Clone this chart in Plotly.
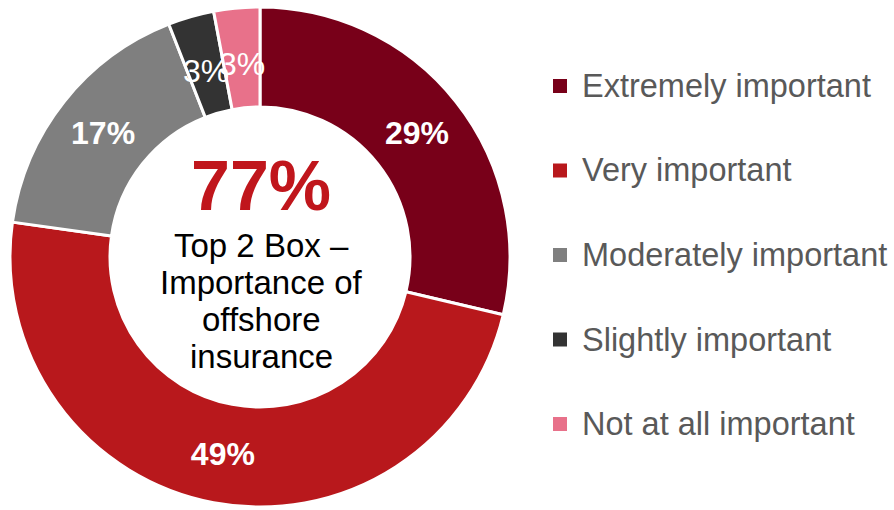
import math
import plotly.graph_objects as go

# Survey responses: importance of offshore insurance
categories = ["Extremely important", "Very important", "Moderately important",
              "Slightly important", "Not at all important"]
shares = [29, 49, 17, 3, 3]
colors = ["#780019", "#B8181C", "#7F7F7F", "#333333", "#E8718A"]

headline = "77%"
caption_lines = ["Top 2 Box –", "Importance of", "offshore", "insurance"]

W, H = 894, 510
FONT = "Liberation Sans, Arial, sans-serif"

# donut geometry in pixels
CX, CY, R_OUT, HOLE = 260, 257, 250, 0.6
SMALL = 5  # slices below this share get a free-standing label


def px_x(v):
    return v / W


def px_y(v):
    return 1 - v / H


fig = go.Figure()
fig.add_trace(go.Pie(
    labels=categories,
    values=shares,
    text=[f"{v}%" if v >= SMALL else "" for v in shares],
    textinfo="text",
    textposition="inside",
    insidetextorientation="horizontal",
    textfont=dict(family=FONT, size=32, color="white", weight="bold"),
    marker=dict(colors=colors, line=dict(color="white", width=3)),
    hole=HOLE,
    sort=False,
    direction="clockwise",
    rotation=0,
    showlegend=False,
    hoverinfo="label+percent",
    domain=dict(x=[px_x(CX - R_OUT), px_x(CX + R_OUT)],
                y=[px_y(CY + R_OUT), px_y(CY - R_OUT)]),
))

annotations = []
shapes = []

# labels for the thin slices, placed at each slice's mid-angle on the ring
total = sum(shares)
cum = 0
r_mid = R_OUT * (1 + HOLE) / 2 - 6
for v in shares:
    mid = (cum + v / 2) / total * 2 * math.pi
    cum += v
    if v >= SMALL:
        continue
    lx = CX + r_mid * math.sin(mid)
    ly = CY - r_mid * math.cos(mid)
    annotations.append(dict(
        text=f"{v}%", x=px_x(lx), y=px_y(ly), xref="paper", yref="paper",
        showarrow=False, xanchor="center", yanchor="middle",
        font=dict(family=FONT, size=32, color="white"),
    ))

# centre headline and caption
annotations.append(dict(
    text=f"<b>{headline}</b>", x=px_x(261), y=px_y(186), xref="paper", yref="paper",
    showarrow=False, xanchor="center", yanchor="middle",
    font=dict(family=FONT, size=70, color="#C0161C"),
))
for i, line in enumerate(caption_lines):
    annotations.append(dict(
        text=line, x=px_x(261), y=px_y(245 + 37 * i), xref="paper", yref="paper",
        showarrow=False, xanchor="center", yanchor="middle",
        font=dict(family=FONT, size=33, color="#000000"),
    ))

# legend drawn as colour swatches with labels
row0, row_gap = 86, 84.5
for i, (name, col) in enumerate(zip(categories, colors)):
    cy = row0 + row_gap * i
    shapes.append(dict(
        type="rect", xref="paper", yref="paper",
        x0=px_x(553), x1=px_x(567), y0=px_y(cy + 7), y1=px_y(cy - 7),
        fillcolor=col, line=dict(width=0),
    ))
    annotations.append(dict(
        text=name, x=px_x(580), y=px_y(cy), xref="paper", yref="paper",
        showarrow=False, xanchor="left", yanchor="middle",
        font=dict(family=FONT, size=32.5, color="#595959"),
    ))

fig.update_layout(
    width=W, height=H,
    margin=dict(l=0, r=0, t=0, b=0),
    paper_bgcolor="white",
    plot_bgcolor="white",
    annotations=annotations,
    shapes=shapes,
)

fig.write_html("out.html")
